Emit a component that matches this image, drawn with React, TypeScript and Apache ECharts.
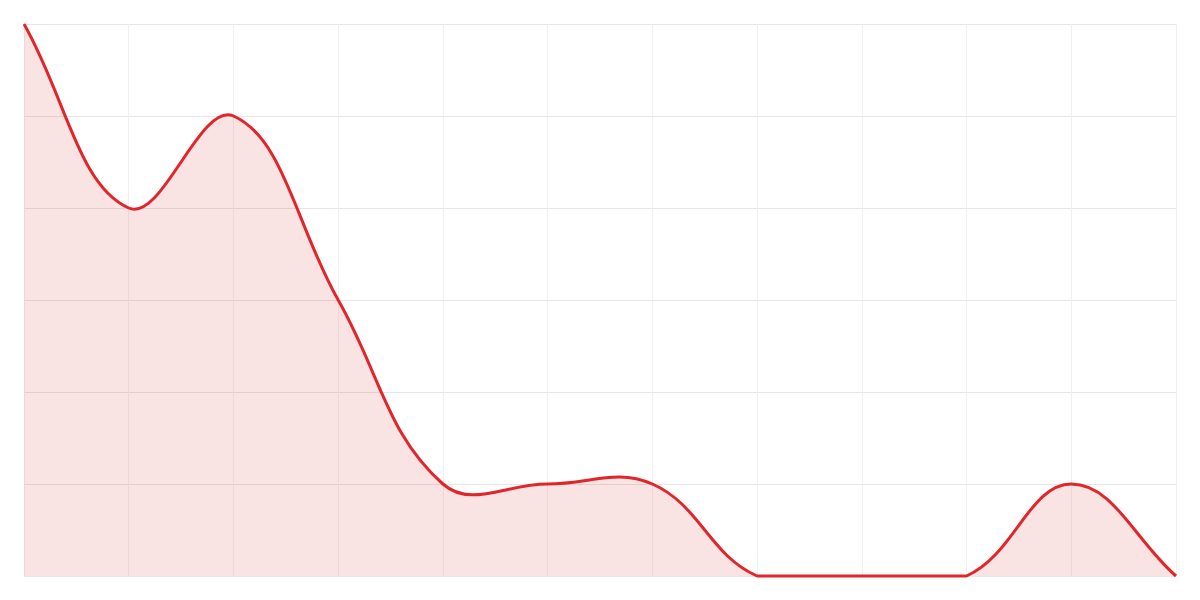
import React, { useEffect, useRef } from "react";
import * as echarts from "echarts";

const categories = ["0", "1", "2", "3", "4", "5", "6", "7", "8", "9", "10", "11"];
const values = [6, 4, 5, 3, 1, 1, 1, 0, 0, 0, 1, 0];

const TENSION = 0.4;

function buildPath(pts: number[][], area: { x: number; y: number; width: number; height: number }) {
  const left = area.x;
  const right = area.x + area.width;
  const top = area.y;
  const bottom = area.y + area.height;
  const cap = (p: number[]) => [
    Math.min(Math.max(p[0], left), right),
    Math.min(Math.max(p[1], top), bottom),
  ];
  const n = pts.length;
  const cps: { prev: number[]; next: number[] }[] = [];
  for (let i = 0; i < n; i++) {
    const cur = pts[i];
    const prev = i > 0 ? pts[i - 1] : cur;
    const next = i < n - 1 ? pts[i + 1] : cur;
    const d01 = Math.hypot(cur[0] - prev[0], cur[1] - prev[1]);
    const d12 = Math.hypot(next[0] - cur[0], next[1] - cur[1]);
    let s01 = d01 / (d01 + d12);
    let s12 = d12 / (d01 + d12);
    if (isNaN(s01)) s01 = 0;
    if (isNaN(s12)) s12 = 0;
    const fa = TENSION * s01;
    const fb = TENSION * s12;
    cps.push({
      prev: cap([cur[0] - fa * (next[0] - prev[0]), cur[1] - fa * (next[1] - prev[1])]),
      next: cap([cur[0] + fb * (next[0] - prev[0]), cur[1] + fb * (next[1] - prev[1])]),
    });
  }
  let d = `M${pts[0][0]},${pts[0][1]}`;
  for (let i = 1; i < n; i++) {
    const c1 = cps[i - 1].next;
    const c2 = cps[i].prev;
    d += ` C${c1[0]},${c1[1]} ${c2[0]},${c2[1]} ${pts[i][0]},${pts[i][1]}`;
  }
  return { line: d, area: d + ` L${pts[n - 1][0]},${bottom} L${pts[0][0]},${bottom} Z` };
}

export default function App() {
  const ref = useRef<HTMLDivElement>(null);
  useEffect(() => {
    if (!ref.current) return;
    const chart = echarts.init(ref.current, undefined, { renderer: "svg" });
    chart.setOption({
      animation: false,
      grid: { left: 24, right: 24, top: 24, bottom: 24 },
      xAxis: {
        type: "category",
        data: categories,
        boundaryGap: false,
        axisLabel: { show: false },
        axisTick: { show: false },
        axisLine: { show: false },
        splitLine: { show: true, lineStyle: { color: "#f0f0f0", width: 1 } },
      },
      yAxis: {
        type: "value",
        min: 0,
        max: 6,
        interval: 1,
        axisLabel: { show: false },
        axisTick: { show: false },
        axisLine: { show: false },
        splitLine: { show: true, lineStyle: { color: "#e6e6e6", width: 1 } },
      },
      series: [
        {
          type: "custom",
          data: values.map((v, i) => [i, v]),
          encode: { x: 0, y: 1 },
          clip: false,
          renderItem: (params: any, api: any) => {
            if (params.dataIndex !== 0) return null;
            const pts = values.map((v, i) => api.coord([i, v]));
            const cs = params.coordSys;
            const p = buildPath(pts, { x: cs.x, y: cs.y, width: cs.width, height: cs.height });
            return {
              type: "group",
              children: [
                {
                  type: "path",
                  shape: { pathData: p.area },
                  style: { fill: "rgba(210, 40, 40, 0.13)", stroke: "none" },
                },
                {
                  type: "path",
                  shape: { pathData: p.line },
                  style: { fill: "none", stroke: "#e0262b", lineWidth: 3 },
                },
              ],
            };
          },
        },
      ],
    });
    return () => chart.dispose();
  }, []);
  return <div ref={ref} style={{ width: 1200, height: 600, position: "absolute", left: 0, top: 0 }} />;
}
